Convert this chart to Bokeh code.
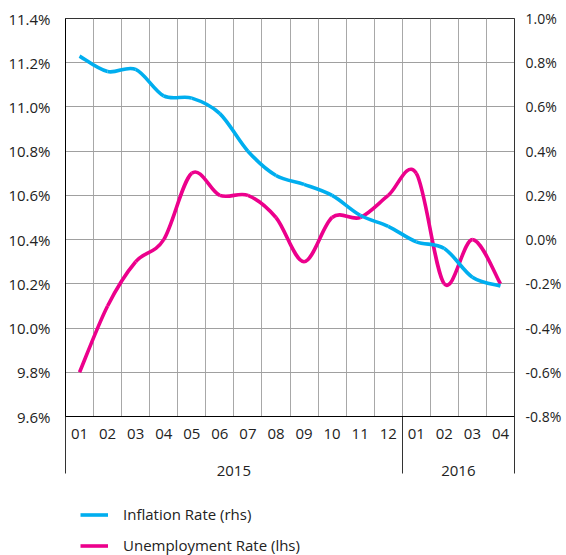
from bokeh.plotting import figure
from bokeh.layouts import column
from bokeh.models import (FactorRange, Range1d, LinearAxis, CategoricalAxis, FixedTicker,
                          PrintfTickFormatter, Legend, LegendItem, ColumnDataSource)
from bokeh.embed import file_html
from bokeh.resources import INLINE

# ---- data ----
years = ["2015"] * 12 + ["2016"] * 4
months = ["01", "02", "03", "04", "05", "06", "07", "08", "09", "10", "11", "12",
          "01", "02", "03", "04"]
unemployment = [9.8, 10.1, 10.3, 10.4, 10.7, 10.6, 10.6, 10.5, 10.3, 10.5, 10.5, 10.6,
                10.7, 10.2, 10.4, 10.2]
inflation = [0.83, 0.76, 0.77, 0.65, 0.64, 0.57, 0.40, 0.29, 0.25, 0.20, 0.11, 0.06,
             -0.01, -0.04, -0.17, -0.21]
left_ticks = [9.6, 9.8, 10.0, 10.2, 10.4, 10.6, 10.8, 11.0, 11.2, 11.4]
right_ticks = [-0.8, -0.6, -0.4, -0.2, 0.0, 0.2, 0.4, 0.6, 0.8, 1.0]
series_names = ["Inflation Rate (rhs)", "Unemployment Rate (lhs)"]

FONT = "Open Sans"
TXT = "#222222"
CYAN = "#00AEEF"
MAGENTA = "#EC008C"

factors = list(zip(years, months))
x_range = FactorRange(factors=factors, factor_padding=0, group_padding=0,
                      subgroup_padding=0, range_padding=0)

p = figure(frame_width=449, frame_height=398, x_range=x_range,
           y_range=Range1d(left_ticks[0], left_ticks[-1]),
           output_backend="svg", toolbar_location=None,
           min_border_left=65, min_border_right=52, min_border_top=18, min_border_bottom=0)
p.extra_y_ranges = {"right": Range1d(right_ticks[0], right_ticks[-1])}
p.outline_line_color = "#333333"
p.background_fill_color = "white"
p.border_fill_color = "white"


def smooth_segments(values):
    """Cubic Bezier segments (Catmull-Rom style) through the data points."""
    xs = [i + 0.5 for i in range(len(values))]
    n = len(values)
    seg = dict(x0=[], y0=[], x1=[], y1=[], cx0=[], cy0=[], cx1=[], cy1=[])
    for i in range(n - 1):
        a = max(i - 1, 0)
        b = min(i + 2, n - 1)
        seg["x0"].append(xs[i]); seg["y0"].append(values[i])
        seg["x1"].append(xs[i + 1]); seg["y1"].append(values[i + 1])
        seg["cx0"].append(xs[i] + (xs[i + 1] - xs[a]) / 6)
        seg["cy0"].append(values[i] + (values[i + 1] - values[a]) / 6)
        seg["cx1"].append(xs[i + 1] - (xs[b] - xs[i]) / 6)
        seg["cy1"].append(values[i + 1] - (values[b] - values[i]) / 6)
    return ColumnDataSource(seg)


# grids
p.xgrid.ticker = FixedTicker(ticks=[float(i) for i in range(1, len(months))])
p.xgrid.grid_line_color = "#a8a8a8"
p.xgrid.grid_line_width = 1
p.ygrid.ticker = FixedTicker(ticks=left_ticks)
p.ygrid.grid_line_color = "#a0a0a0"
p.ygrid.grid_line_width = 1

p.bezier(x0="x0", y0="y0", x1="x1", y1="y1", cx0="cx0", cy0="cy0", cx1="cx1", cy1="cy1",
         source=smooth_segments(unemployment), line_color=MAGENTA, line_width=3.6)
p.bezier(x0="x0", y0="y0", x1="x1", y1="y1", cx0="cx0", cy0="cy0", cx1="cx1", cy1="cy1",
         source=smooth_segments(inflation), line_color=CYAN, line_width=3.6,
         y_range_name="right")

# left axis
ya = p.yaxis[0]
ya.ticker = FixedTicker(ticks=left_ticks)
ya.formatter = PrintfTickFormatter(format="%.1f%%")
ya.major_tick_out = 0
ya.major_tick_in = 0
ya.minor_tick_out = 0
ya.minor_tick_in = 0
ya.major_tick_line_color = None
ya.minor_tick_line_color = None
ya.axis_line_color = "black"
ya.major_label_standoff = 15
ya.major_label_text_font = FONT
ya.major_label_text_font_size = "15px"
ya.major_label_text_color = TXT

# right axis
yr = LinearAxis(y_range_name="right", ticker=FixedTicker(ticks=right_ticks),
                formatter=PrintfTickFormatter(format="%.1f%%"),
                major_tick_out=0, major_tick_in=0, minor_tick_out=0, minor_tick_in=0,
                major_tick_line_color=None, minor_tick_line_color=None,
                axis_line_color="#333333", major_label_standoff=11,
                major_label_text_font=FONT, major_label_text_font_size="14px",
                major_label_text_color=TXT)
p.add_layout(yr, "right")

# x axis: months (the figure's own categorical axis)
xa = p.xaxis[0]
xa.major_tick_out = 0
xa.major_tick_in = 0
xa.major_tick_line_color = None
xa.minor_tick_line_color = None
xa.axis_line_color = "black"
xa.separator_line_color = None
xa.major_label_standoff = 12
xa.major_label_text_font = FONT
xa.major_label_text_font_size = "15px"
xa.major_label_text_color = TXT
xa.group_text_color = None
xa.group_text_font_size = "1px"

# year separators (first panel below the frame): ticks drawn outward from the frame
bounds = [0] + [i for i in range(1, len(years)) if years[i] != years[i - 1]] + [len(years)]
sep = LinearAxis(ticker=FixedTicker(ticks=bounds),
                 major_tick_in=-57, major_tick_out=0, minor_tick_in=0, minor_tick_out=0,
                 major_tick_line_color="#333333", major_tick_line_width=1,
                 minor_tick_line_color=None, axis_line_color=None,
                 major_label_standoff=0, major_label_text_font_size="1px",
                 major_label_text_color=None)
p.below.insert(0, sep)

# x axis: years
xb = CategoricalAxis(major_tick_out=0, major_tick_in=0,
                     major_tick_line_color=None, minor_tick_line_color=None,
                     axis_line_color=None, separator_line_color=None,
                     major_label_text_color=None, major_label_text_font_size="1px",
                     major_label_standoff=24,
                     group_text_font=FONT, group_text_font_size="15px",
                     group_text_font_style="normal", group_text_color=TXT)
p.add_layout(xb, "below")

# ---- legend in a small figure underneath ----
leg = figure(width=566, height=77, output_backend="svg", toolbar_location=None,
             x_axis_location=None, y_axis_location=None, min_border=0)
leg.outline_line_color = None
leg.background_fill_color = "white"
leg.border_fill_color = "white"
leg.grid.visible = False
# single-point lines: invisible in the plot, but they carry the legend swatches
l_infl = leg.line(x=[0], y=[0], line_color=CYAN, line_width=3.6)
l_unemp = leg.line(x=[0], y=[0], line_color=MAGENTA, line_width=3.6)
legend = Legend(items=[LegendItem(label=series_names[0], renderers=[l_infl]),
                       LegendItem(label=series_names[1], renderers=[l_unemp])],
                location=(15, 0), orientation="vertical",
                glyph_width=28, glyph_height=19, label_height=19, spacing=11,
                padding=0, margin=0, label_standoff=15,
                border_line_color=None, background_fill_alpha=0,
                label_text_font=FONT, label_text_font_size="15px", label_text_color=TXT)
leg.add_layout(legend, "center")

layout = column(p, leg, spacing=0)
open("out.html", "w").write(file_html(layout, INLINE))
